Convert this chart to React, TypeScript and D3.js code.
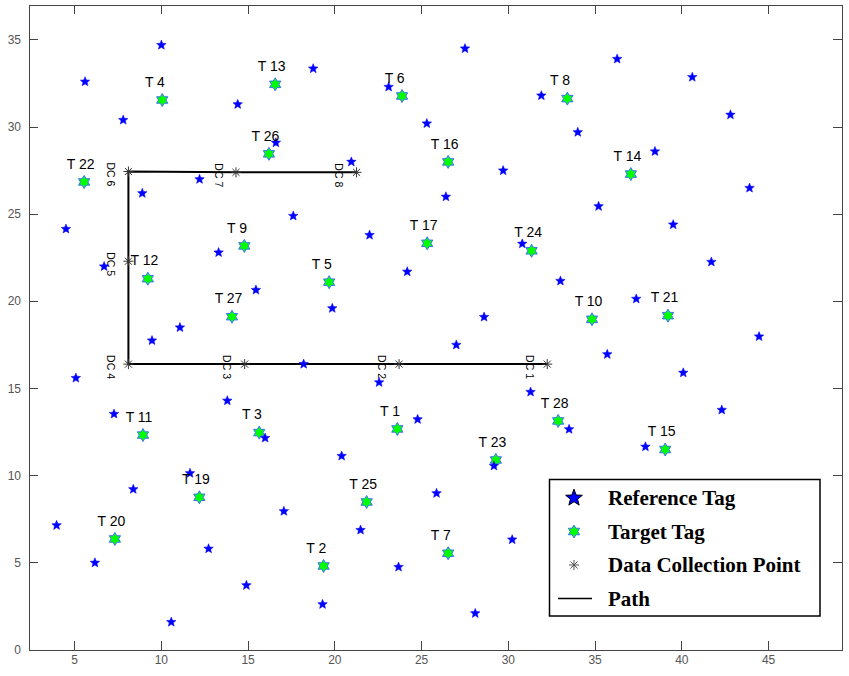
import { useMemo } from "react";
import * as d3 from "d3";

const W = 849;
const H = 676;
const X_DOMAIN = [2.37, 49.23];
const Y_DOMAIN = [0, 37];
const X_TICKS = [5, 10, 15, 20, 25, 30, 35, 40, 45];
const Y_TICKS = [0, 5, 10, 15, 20, 25, 30, 35];

// reference tags
const refX = [10.0, 5.6, 7.8, 14.4, 12.2, 8.9, 17.6, 4.5, 16.6, 18.75, 23.1, 27.5, 25.3, 31.9, 34.0, 20.95, 29.7, 26.4,
  36.27, 40.6, 42.8, 38.45, 43.9, 35.2, 39.5, 6.7, 13.3, 15.45, 11.07, 9.46, 5.07, 7.27, 13.8, 15.98, 22.0, 24.17,
  19.85, 28.6, 27.0, 18.2, 22.55, 24.77, 31.28, 33.0, 30.8, 33.5, 41.7, 37.37, 44.45, 35.7, 40.08, 42.3, 37.9,
  3.96, 6.17, 8.38, 11.65, 12.72, 17.06, 14.9, 10.57, 20.39, 25.86, 21.48, 23.67, 30.22, 19.29, 28.09, 29.17];
const refY = [34.7, 32.6, 30.4, 31.3, 27.0, 26.2, 24.9, 24.15, 29.1, 33.35, 32.3, 34.5, 30.2, 31.8, 29.7, 28.0, 27.5, 26.0,
  33.9, 32.86, 30.7, 28.6, 26.5, 25.45, 24.4, 22.0, 22.8, 20.65, 18.5, 17.75, 15.6, 13.54, 14.3, 12.16, 23.8, 21.7,
  19.6, 19.1, 17.5, 16.4, 15.35, 13.23, 14.8, 21.17, 23.3, 12.66, 22.26, 20.14, 17.98, 16.96, 15.9, 13.77, 11.66,
  7.15, 5.0, 9.22, 10.14, 5.81, 7.96, 3.71, 1.6, 11.13, 8.99, 6.88, 4.76, 6.33, 2.62, 2.1, 10.56];

// target tags
const targetNames = ["T 1", "T 2", "T 3", "T 4", "T 5", "T 6", "T 7", "T 8", "T 9", "T 10", "T 11", "T 12", "T 13",
  "T 14", "T 15", "T 16", "T 17", "T 19", "T 20", "T 21", "T 22", "T 23", "T 24", "T 25", "T 26", "T 27", "T 28"];
const targetX = [23.6, 19.35, 15.64, 10.05, 19.67, 23.87, 26.53, 33.4, 14.78, 34.82, 8.94, 9.22, 16.56,
  37.06, 39.04, 26.53, 25.32, 12.19, 7.32, 39.2, 5.55, 29.28, 31.34, 21.83, 16.2, 14.07, 32.87];
const targetY = [12.68, 4.82, 12.47, 31.55, 21.1, 31.78, 5.55, 31.63, 23.18, 18.97, 12.33, 21.3, 32.45,
  27.3, 11.5, 28.0, 23.33, 8.76, 6.37, 19.18, 26.85, 10.9, 22.9, 8.49, 28.46, 19.12, 13.14];

// data collection points, in path order
const dcNames = ["DC 1", "DC 2", "DC 3", "DC 4", "DC 5", "DC 6", "DC 7", "DC 8"];
const dcX = [32.24, 23.7, 14.8, 8.1, 8.1, 8.1, 14.3, 21.25];
const dcY = [16.4, 16.4, 16.4, 16.4, 22.3, 27.45, 27.4, 27.4];

const legendLabels = ["Reference Tag", "Target Tag", "Data Collection Point", "Path"];

const starPath = (n: number, R: number, r: number) => {
  const pts = d3.range(n * 2).map((i) => {
    const a = -Math.PI / 2 + (i * Math.PI) / n;
    const rad = i % 2 === 0 ? R : r;
    return [rad * Math.cos(a), rad * Math.sin(a)];
  });
  return "M" + pts.map((p) => p[0].toFixed(2) + "," + p[1].toFixed(2)).join("L") + "Z";
};

const asterisk = (R: number) => {
  const d = R * Math.SQRT1_2;
  return `M${-R},0L${R},0M0,${-R}L0,${R}M${-d},${-d}L${d},${d}M${-d},${d}L${d},${-d}`;
};

const PENTA = starPath(5, 5, 2.2);
const HEXA = starPath(6, 6.5, 3.75);
const AST = asterisk(5);

export default function App() {
  const left = 29, right = 842, top = 5, bottom = 650;
  const x = useMemo(() => d3.scaleLinear().domain(X_DOMAIN).range([left, right]), []);
  const y = useMemo(() => d3.scaleLinear().domain(Y_DOMAIN).range([bottom, top]), []);

  const pathD = d3.line<number>()
    .x((i) => x(dcX[i]))
    .y((i) => y(dcY[i]))(d3.range(dcX.length));

  const tickFont = { fontFamily: "Liberation Sans, Arial, sans-serif", fontSize: 12, fill: "#555" };
  const lx = 574, ly0 = 498, lstep = 33.5;

  return (
    <svg width={W} height={H} style={{ position: "absolute", left: 0, top: 0, background: "#fff" }}>
      <rect x={0} y={0} width={W} height={H} fill="#fff" />
      {/* axes box and ticks */}
      <g stroke="#444" strokeWidth={1} shapeRendering="crispEdges">
        <rect x={left} y={top} width={right - left} height={bottom - top} fill="none" />
        {X_TICKS.map((t) => (
          <g key={"xt" + t}>
            <line x1={x(t)} x2={x(t)} y1={bottom} y2={bottom - 9} />
            <line x1={x(t)} x2={x(t)} y1={top} y2={top + 9} />
          </g>
        ))}
        {Y_TICKS.map((t) => (
          <g key={"yt" + t}>
            <line x1={left} x2={left + 9} y1={y(t)} y2={y(t)} />
            <line x1={right} x2={right - 9} y1={y(t)} y2={y(t)} />
          </g>
        ))}
      </g>
      {X_TICKS.map((t) => (
        <text key={"xl" + t} x={x(t)} y={664} textAnchor="middle" {...tickFont}>{t}</text>
      ))}
      {Y_TICKS.map((t) => (
        <text key={"yl" + t} x={21} y={y(t)} textAnchor="end" dominantBaseline="central" {...tickFont}>{t}</text>
      ))}

      {/* path */}
      <path d={pathD ?? ""} fill="none" stroke="#000" strokeWidth={2} />
      {dcX.map((v, i) => (
        <path key={"dc" + i} d={AST} transform={`translate(${x(v)},${y(dcY[i])})`} stroke="#333" strokeWidth={1} fill="none" />
      ))}
      {dcNames.map((n, i) => (
        <text key={"dcl" + i} transform={`translate(${x(dcX[i] - 1)},${y(dcY[i]) - 9}) rotate(90)`}
          dominantBaseline="central" fontFamily="Liberation Sans, Arial, sans-serif" fontSize={10.5} fill="#000">{n}</text>
      ))}

      {/* target tags */}
      {targetX.map((v, i) => (
        <path key={"tg" + i} d={HEXA} transform={`translate(${x(v)},${y(targetY[i])})`}
          fill="#00ff00" stroke="#3f6fff" strokeWidth={1} />
      ))}
      {/* reference tags */}
      {refX.map((v, i) => (
        <path key={"rf" + i} d={PENTA} transform={`translate(${x(v)},${y(refY[i])})`}
          fill="#0000ff" stroke="#0000ff" strokeWidth={0.5} />
      ))}
      {targetNames.map((n, i) => (
        <text key={"tl" + i} x={x(targetX[i] - 1)} y={y(targetY[i] + 1.05)} dominantBaseline="central"
          fontFamily="Liberation Sans, Arial, sans-serif" fontSize={14} fill="#000">{n}</text>
      ))}

      {/* legend */}
      <rect x={549.5} y={479.5} width={270.5} height={136.5} fill="#fff" stroke="#000" strokeWidth={1.5} />
      <path d={starPath(5, 8.8, 3.7)} transform={`translate(${lx},${ly0})`} fill="#0000ff" stroke="#000" strokeWidth={1} />
      <path d={HEXA} transform={`translate(${lx},${ly0 + lstep})`} fill="#00ff00" stroke="#3f6fff" strokeWidth={1} />
      <path d={AST} transform={`translate(${lx},${ly0 + 2 * lstep})`} stroke="#555" strokeWidth={1} fill="none" />
      <line x1={558} x2={592} y1={ly0 + 3 * lstep} y2={ly0 + 3 * lstep} stroke="#000" strokeWidth={1.5} />
      {legendLabels.map((l, i) => (
        <text key={"lg" + i} x={608} y={ly0 + i * lstep + 7} fontFamily="Liberation Serif, Times New Roman, serif"
          fontWeight="bold" fontSize={21} fill="#000">{l}</text>
      ))}
    </svg>
  );
}
